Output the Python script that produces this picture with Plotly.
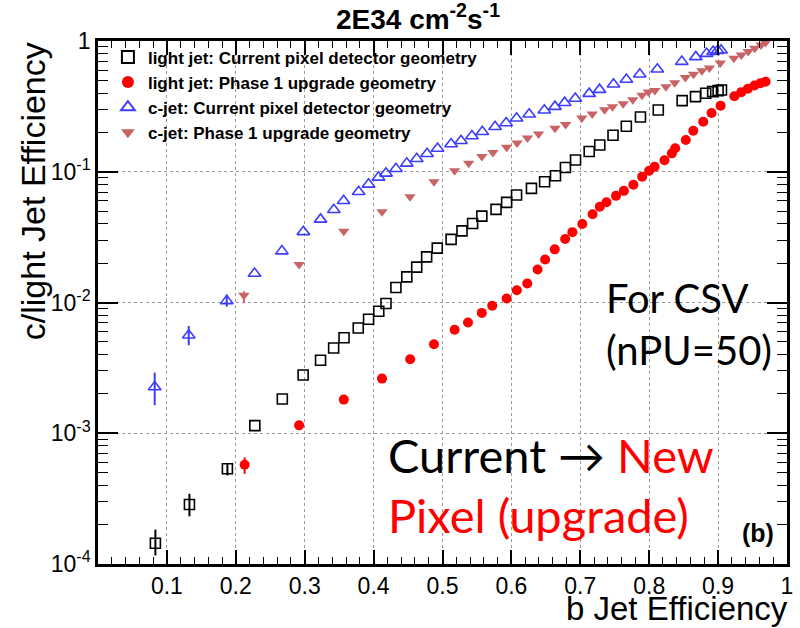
import plotly.graph_objects as go

# ---------------- data ----------------
light_cur_x = [0.0833, 0.1327, 0.1878, 0.2276, 0.2675, 0.2977, 0.3230, 0.3420, 0.3571, 0.3777,
               0.3927, 0.4075, 0.4180, 0.4324, 0.4482, 0.4626, 0.4770, 0.4924, 0.5125, 0.5283,
               0.5437, 0.5571, 0.5777, 0.5931, 0.6075, 0.6291, 0.6482, 0.6640, 0.6784, 0.6931,
               0.7129, 0.7283, 0.7475, 0.7668, 0.7873, 0.8132, 0.8478, 0.8672, 0.8820, 0.8921,
               0.9000, 0.9049]
light_cur_y = [1.443e-4, 2.854e-4, 5.356e-4, 1.143e-3, 1.827e-3, 2.790e-3, 3.616e-3, 4.492e-3, 5.376e-3, 6.390e-3,
               7.448e-3, 8.578e-3, 9.824e-3, 1.303e-2, 1.570e-2, 1.864e-2, 2.234e-2, 2.604e-2, 3.037e-2, 3.533e-2,
               4.025e-2, 4.578e-2, 5.153e-2, 5.831e-2, 6.632e-2, 7.462e-2, 8.385e-2, 9.319e-2, 0.1077, 0.1229,
               0.1428, 0.1601, 0.1903, 0.2227, 0.2623, 0.2969, 0.3497, 0.3753, 0.3983, 0.4098,
               0.4171, 0.4223]
light_cur_errp = [0.39e-4, 0.59e-4, 0.55e-4] + [0.0] * 39
light_cur_errm = [0.28e-4, 0.54e-4, 0.60e-4] + [0.0] * 39

light_new_x = [0.2128, 0.2919, 0.3567, 0.4122, 0.4531, 0.4876, 0.5176, 0.5370, 0.5571, 0.5722,
               0.5931, 0.6079, 0.6230, 0.6380, 0.6489, 0.6629, 0.6780, 0.6885, 0.7029, 0.7178,
               0.7283, 0.7380, 0.7518, 0.7633, 0.7770, 0.7898, 0.7999, 0.8078, 0.8222, 0.8329,
               0.8377, 0.8531, 0.8640, 0.8784, 0.8905, 0.9036, 0.9236, 0.9337, 0.9432, 0.9528,
               0.9612, 0.9689]
light_new_y = [5.748e-4, 1.149e-3, 1.808e-3, 2.618e-3, 3.679e-3, 4.793e-3, 6.188e-3, 7.040e-3, 8.326e-3, 9.452e-3,
               1.073e-2, 1.242e-2, 1.398e-2, 1.789e-2, 2.134e-2, 2.550e-2, 3.063e-2, 3.453e-2, 3.990e-2, 4.725e-2,
               5.395e-2, 5.842e-2, 6.539e-2, 7.141e-2, 7.954e-2, 9.156e-2, 0.1018, 0.1092, 0.1223, 0.1383,
               0.1511, 0.1748, 0.2060, 0.2414, 0.2814, 0.3195, 0.3779, 0.4062, 0.4313, 0.4571,
               0.4752, 0.4887]
light_new_errp = [0.78e-4] + [0.0] * 41
light_new_errm = [0.85e-4] + [0.0] * 41

c_cur_x = [0.0823, 0.1317, 0.1869, 0.2272, 0.2669, 0.2981, 0.3230, 0.3423, 0.3564, 0.3783,
           0.3927, 0.4071, 0.4180, 0.4324, 0.4482, 0.4626, 0.4776, 0.4928, 0.5125, 0.5269,
           0.5427, 0.5578, 0.5763, 0.5924, 0.6075, 0.6258, 0.6478, 0.6632, 0.6773, 0.6927,
           0.7129, 0.7279, 0.7482, 0.7669, 0.7863, 0.8118, 0.8473, 0.8676, 0.8833, 0.8928,
           0.8993, 0.9043]
c_cur_y = [2.259e-3, 5.618e-3, 1.029e-2, 1.668e-2, 2.471e-2, 3.471e-2, 4.320e-2, 5.117e-2, 5.996e-2, 7.028e-2,
           8.012e-2, 9.060e-2, 9.722e-2, 0.1054, 0.1159, 0.1256, 0.1372, 0.1506, 0.1630, 0.1727,
           0.1876, 0.2024, 0.2211, 0.2360, 0.2563, 0.2751, 0.2952, 0.3146, 0.3375, 0.3634,
           0.3955, 0.4245, 0.4669, 0.5081, 0.5568, 0.6082, 0.6955, 0.7557, 0.8006, 0.8294,
           0.8443, 0.8503]
c_cur_errp = [0.65e-3, 1.0e-3, 1.2e-3] + [0.0] * 39
c_cur_errm = [0.62e-3, 0.9e-3, 1.0e-3] + [0.0] * 39

c_new_x = [0.2118, 0.2919, 0.3567, 0.4122, 0.4528, 0.4876, 0.5176, 0.5380, 0.5571, 0.5732,
           0.5931, 0.6082, 0.6233, 0.6394, 0.6633, 0.6787, 0.7022, 0.7173, 0.7353, 0.7466,
           0.7622, 0.7761, 0.7895, 0.7988, 0.8082, 0.8243, 0.8370, 0.8525, 0.8643, 0.8765,
           0.8873, 0.9032, 0.9229, 0.9337, 0.9437, 0.9532, 0.9624, 0.9689]
c_new_y = [1.137e-2, 1.954e-2, 3.514e-2, 4.940e-2, 6.436e-2, 8.385e-2, 0.1016, 0.1159, 0.1307, 0.1403,
           0.1538, 0.1659, 0.1811, 0.1944, 0.2149, 0.2298, 0.2577, 0.2765, 0.2984, 0.3146,
           0.3317, 0.3558, 0.3846, 0.4075, 0.4185, 0.4467, 0.4802, 0.5263, 0.5578, 0.5923,
           0.6223, 0.6797, 0.7384, 0.7825, 0.8294, 0.8808, 0.9336, 0.9721]
c_new_errp = [0.8e-3] + [0.0] * 37
c_new_errm = [1.5e-3] + [0.0] * 37

series_names = ["light jet: Current pixel detector geometry",
                "light jet: Phase 1 upgrade geometry",
                "c-jet: Current pixel detector geometry",
                "c-jet: Phase 1 upgrade geometry"]

x_tick_vals = [0.1, 0.2, 0.3, 0.4, 0.5, 0.6, 0.7, 0.8, 0.9, 1.0]
x_tick_text = ["0.1", "0.2", "0.3", "0.4", "0.5", "0.6", "0.7", "0.8", "0.9", "1"]
y_tick_vals = [1e-4, 1e-3, 1e-2, 1e-1, 1]
y_tick_text = ["10<sup>-4</sup>", "10<sup>-3</sup>", "10<sup>-2</sup>", "10<sup>-1</sup>", "1"]

# ---------------- figure ----------------
BLUE = "#3c3cff"
ROSE = "#c86464"
RED = "#ff0000"

fig = go.Figure()


def add(x, y, ep, em, name, symbol, color, size, lw=1.6):
    fig.add_trace(go.Scatter(
        x=x, y=y, mode="markers", name=name,
        marker=dict(symbol=symbol, size=size, color=color,
                    line=dict(width=lw, color=color)),
        error_y=dict(type="data", symmetric=False, array=ep, arrayminus=em,
                     thickness=2, width=0, color=color),
    ))


add(light_cur_x, light_cur_y, light_cur_errp, light_cur_errm, series_names[0], "square-open", "black", 10)
add(light_new_x, light_new_y, light_new_errp, light_new_errm, series_names[1], "circle", RED, 10, 0)
add(c_cur_x, c_cur_y, c_cur_errp, c_cur_errm, series_names[2], "triangle-up-open", BLUE, 11)
add(c_new_x, c_new_y, c_new_errp, c_new_errm, series_names[3], "triangle-down", ROSE, 10, 0)

x_minor = [round(0.02 * i, 2) for i in range(1, 50) if i % 5 != 0]
y_minor = [m * 10 ** e for e in range(-4, 0) for m in range(2, 10)]

axis_font = dict(family="Liberation Sans, Arial, sans-serif", size=23, color="black")

fig.update_layout(
    width=800, height=628,
    margin=dict(l=98, r=7, t=41, b=64),
    paper_bgcolor="white", plot_bgcolor="white",
    showlegend=True,
    title=dict(text="<b>2E34 cm<sup>-2</sup>s<sup>-1</sup></b>",
               x=0.5225, y=0.97, xanchor="center", yanchor="middle",
               font=dict(family="Liberation Sans, Arial, sans-serif", size=28, color="black")),
    legend=dict(x=0.0144, y=1.003, xanchor="left", yanchor="top",
                bgcolor="rgba(0,0,0,0)", borderwidth=0,
                font=dict(family="Liberation Sans, Arial, sans-serif", size=17, color="black", weight="bold"),
                tracegroupgap=0, itemsizing="constant"),
    xaxis=dict(range=[0, 1], tickmode="array", tickvals=x_tick_vals, ticktext=x_tick_text,
               ticks="inside", ticklen=14, tickwidth=1.5, tickcolor="black",
               minor=dict(tickmode="array", tickvals=x_minor, ticks="inside", ticklen=7,
                          tickwidth=1.2, tickcolor="black", showgrid=False),
               showgrid=True, gridcolor="#9a9a9a", griddash="dot", gridwidth=1,
               showline=True, linecolor="black", linewidth=2.5, mirror="allticks",
               zeroline=False, tickfont=axis_font),
    yaxis=dict(type="log", range=[-4, 0], tickmode="array", tickvals=y_tick_vals, ticktext=y_tick_text,
               ticks="inside", ticklen=20, tickwidth=1.5, tickcolor="black",
               minor=dict(tickmode="array", tickvals=y_minor, ticks="inside", ticklen=10,
                          tickwidth=1.2, tickcolor="black", showgrid=False),
               showgrid=True, gridcolor="#9a9a9a", griddash="dot", gridwidth=1,
               showline=True, linecolor="black", linewidth=2.5, mirror="allticks",
               zeroline=False, tickfont=axis_font),
)

title_font = dict(family="Liberation Sans, Arial, sans-serif", size=33, color="black")
ytitle_font = dict(family="Liberation Sans, Arial, sans-serif", size=34, color="black")
note_font = dict(family="Lato, sans-serif", size=40, color="black")
big_font = dict(family="Lato, sans-serif", size=47, color="black")
red_font = dict(family="Lato, sans-serif", size=47, color=RED)

annotations = [
    dict(text="b Jet Efficiency", x=1.004, y=-0.085, xanchor="right", yanchor="middle", font=title_font),
    dict(text="c/light Jet Efficiency", x=-0.094, y=1.002, xanchor="center", yanchor="top",
         textangle=-90, font=ytitle_font),
    dict(text="For CSV", x=0.734, y=0.508, xanchor="left", yanchor="middle", font=note_font),
    dict(text="(nPU=50)", x=0.734, y=0.409, xanchor="left", yanchor="middle", font=note_font),
    dict(text="Current → <span style='color:#ff0000'>New</span>", x=0.4187, y=0.209,
         xanchor="left", yanchor="middle", font=big_font),
    dict(text="Pixel (upgrade)", x=0.4187, y=0.093, xanchor="left", yanchor="middle", font=red_font),
    dict(text="<b>(b)</b>", x=0.958, y=0.060, xanchor="center", yanchor="middle",
         font=dict(family="Liberation Sans, Arial, sans-serif", size=25, color="black")),
]
for a in annotations:
    a.update(xref="paper", yref="paper", showarrow=False)
fig.update_layout(annotations=annotations)

fig.write_html("out.html")
